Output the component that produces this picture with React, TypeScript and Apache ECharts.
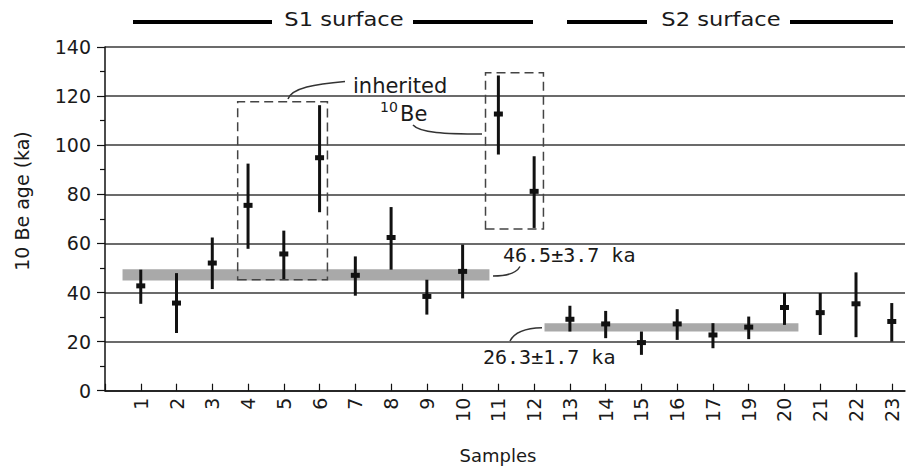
import React, { useEffect, useRef } from "react";
import * as echarts from "echarts";

const categories = ["1","2","3","4","5","6","7","8","9","10","11","12","13","14","15","16","17","19","20","21","22","23"];
const ages = [42.7, 35.7, 52, 75.5, 55.7, 94.9, 47, 62.4, 38.4, 48.6, 112.7, 81.2, 29.1, 27.2, 19.6, 27.2, 22.7, 25.9, 33.9, 31.8, 35.4, 28.2];
const lows = [35.4, 23.5, 41.4, 57.8, 45.5, 72.7, 38.7, 49.3, 31, 37.6, 96.2, 66.3, 24.1, 21.4, 14.6, 20.7, 17.3, 21, 26.8, 22.7, 21.8, 20];
const highs = [49.3, 47.9, 62.4, 92.5, 65.2, 116.3, 54.7, 74.8, 45.2, 59.5, 128.4, 95.5, 34.6, 32.5, 24.1, 33.2, 27.5, 30.2, 39.8, 39.8, 48.2, 35.7];
const yTicks = [0, 20, 40, 60, 80, 100, 120, 140];
// mean-age bands: [xStart, xEnd, yLow, yHigh] in axis units
const bandS1 = [0.49, 10.75, 44.9, 49.5];
const bandS2 = [12.29, 19.39, 24.1, 27.5];
// inherited 10Be boxes
const boxA = [3.71, 6.22, 45.2, 117.7];
const boxB = [10.64, 12.26, 65.9, 129.5];

const FONT = "DejaVu Sans";
const TXT = "#1a1a1a";

export default function App() {
  const ref = useRef<HTMLDivElement>(null);
  useEffect(() => {
    if (!ref.current) return;
    const chart = echarts.init(ref.current, undefined, { renderer: "svg" });
    const data = ages.map((a, i) => [i + 1, a, lows[i], highs[i]]);
    const area = (b: number[], style: any) => [
      { xAxis: b[0], yAxis: b[2], itemStyle: style },
      { xAxis: b[1], yAxis: b[3] },
    ];
    const bandStyle = { color: "#a9a9a9", opacity: 1 };
    const boxStyle = { color: "rgba(0,0,0,0)", borderColor: "#444", borderWidth: 1.5, borderType: [9, 5] };
    const option: any = {
      animation: false,
      backgroundColor: "#fff",
      grid: { left: 105, right: 1, top: 47, bottom: 77.3, containLabel: false },
      xAxis: {
        type: "value",
        min: 0,
        max: 22.37,
        interval: 1,
        splitLine: { show: false },
        axisLine: { show: true, onZero: false, lineStyle: { color: "#111", width: 1.5 } },
        axisTick: { show: true, inside: true, length: 7, lineStyle: { color: "#111", width: 1.2 } },
        axisLabel: {
          rotate: 90,
          margin: 7,
          fontFamily: FONT,
          fontSize: 19,
          color: TXT,
          showMaxLabel: false,
          formatter: (v: number) => (Number.isInteger(v) && v >= 1 ? categories[v - 1] ?? "" : ""),
        },
      },
      yAxis: {
        type: "value",
        min: yTicks[0],
        max: yTicks[yTicks.length - 1],
        interval: 20,
        axisLine: { show: true, lineStyle: { color: "#111", width: 1.5 } },
        axisTick: { show: true, length: 8, lineStyle: { color: "#111", width: 1.2 } },
        minorTick: { show: true, splitNumber: 2, length: 5, lineStyle: { color: "#111", width: 1.2 } },
        splitLine: { show: true, lineStyle: { color: "#3a3a3a", width: 1.5 } },
        axisLabel: { margin: 14, fontFamily: FONT, fontSize: 19, color: TXT },
      },
      series: [
        {
          type: "custom",
          z: 3,
          data,
          encode: { x: 0, y: [1, 2, 3] },
          renderItem: (params: any, api: any) => {
            const x = api.value(0);
            const pLo = api.coord([x, api.value(2)]);
            const pHi = api.coord([x, api.value(3)]);
            const pM = api.coord([x, api.value(1)]);
            return {
              type: "group",
              children: [
                { type: "line", shape: { x1: pLo[0], y1: pLo[1], x2: pHi[0], y2: pHi[1] }, style: { stroke: "#111", lineWidth: 3 } },
                { type: "rect", shape: { x: pM[0] - 4.5, y: pM[1] - 2.5, width: 9, height: 5 }, style: { fill: "#111" } },
              ],
            };
          },
          markArea: {
            silent: true,
            label: { show: false },
            data: [area(bandS1, bandStyle), area(bandS2, bandStyle), area(boxA, boxStyle), area(boxB, boxStyle)],
          },
        },
      ],
      graphic: [
        // header
        { type: "line", shape: { x1: 133, y1: 22, x2: 272, y2: 22 }, style: { stroke: "#000", lineWidth: 4 } },
        { type: "line", shape: { x1: 413, y1: 22, x2: 533, y2: 22 }, style: { stroke: "#000", lineWidth: 4 } },
        { type: "line", shape: { x1: 567, y1: 22, x2: 647, y2: 22 }, style: { stroke: "#000", lineWidth: 4 } },
        { type: "line", shape: { x1: 790, y1: 22, x2: 893, y2: 22 }, style: { stroke: "#000", lineWidth: 4 } },
        { type: "text", x: 344, y: 19, scaleX: 1.13, style: { text: "S1 surface", font: `20px "${FONT}"`, fill: TXT, textAlign: "center", textVerticalAlign: "middle" } },
        { type: "text", x: 721, y: 19, scaleX: 1.13, style: { text: "S2 surface", font: `20px "${FONT}"`, fill: TXT, textAlign: "center", textVerticalAlign: "middle" } },
        // axis titles
        { type: "text", x: 22, y: 201, rotation: Math.PI / 2, style: { text: "10 Be age (ka)", font: `19px "${FONT}"`, fill: TXT, textAlign: "center", textVerticalAlign: "middle" } },
        { type: "text", x: 498, y: 455, style: { text: "Samples", font: `18px "${FONT}"`, fill: TXT, textAlign: "center", textVerticalAlign: "middle" } },
        // annotations
        { type: "text", x: 353, y: 86, style: { text: "inherited", font: `21px "${FONT}"`, fill: TXT, textAlign: "left", textVerticalAlign: "middle" } },
        { type: "text", x: 380, y: 107, style: { text: "10", font: `14px "${FONT}"`, fill: TXT, textAlign: "left", textVerticalAlign: "middle" } },
        { type: "text", x: 400, y: 114, style: { text: "Be", font: `21px "${FONT}"`, fill: TXT, textAlign: "left", textVerticalAlign: "middle" } },
        { type: "text", x: 503, y: 255, style: { text: "46.5±3.7 ka", font: `20px "DejaVu Sans Mono"`, fill: TXT, textAlign: "left", textVerticalAlign: "middle" } },
        { type: "text", x: 483, y: 356.5, style: { text: "26.3±1.7 ka", font: `20px "DejaVu Sans Mono"`, fill: TXT, textAlign: "left", textVerticalAlign: "middle" } },
        { type: "bezierCurve", shape: { x1: 345, y1: 81.5, cpx1: 315, cpy1: 84, cpx2: 292, cpy2: 88, x2: 288, y2: 99 }, style: { stroke: "#333", lineWidth: 1.5, fill: "none" } },
        { type: "bezierCurve", shape: { x1: 413, y1: 125, cpx1: 420, cpy1: 133, cpx2: 445, cpy2: 134, x2: 482, y2: 134 }, style: { stroke: "#333", lineWidth: 1.5, fill: "none" } },
        { type: "bezierCurve", shape: { x1: 493, y1: 276, cpx1: 508, cpy1: 276, cpx2: 517, cpy2: 272, x2: 520, y2: 266.5 }, style: { stroke: "#333", lineWidth: 1.5, fill: "none" } },
        { type: "bezierCurve", shape: { x1: 510, y1: 341, cpx1: 515, cpy1: 331, cpx2: 528, cpy2: 328, x2: 542, y2: 327.7 }, style: { stroke: "#333", lineWidth: 1.5, fill: "none" } },
      ],
    };
    chart.setOption(option);
    return () => chart.dispose();
  }, []);
  return <div ref={ref} style={{ position: "absolute", left: 0, top: 0, width: 906, height: 468 }} />;
}
